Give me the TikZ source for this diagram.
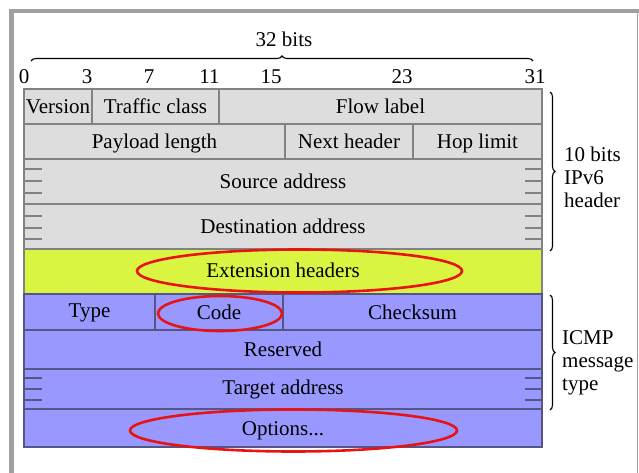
\documentclass[tikz,border=0pt]{standalone}
\usepackage{fontspec}
\setmainfont{Liberation Serif}
\usetikzlibrary{decorations.pathreplacing}
\definecolor{cellgray}{RGB}{221,221,221}
\definecolor{linegray}{RGB}{130,130,130}
\definecolor{extgreen}{RGB}{217,245,66}
\definecolor{icmpblue}{RGB}{152,152,255}
\definecolor{blueline}{RGB}{85,85,135}
\definecolor{framegray}{RGB}{160,160,160}
\definecolor{ovalred}{RGB}{232,20,20}
\begin{document}
\begin{tikzpicture}[x=1pt,y=-1pt,
  lbl/.style={font=\fontsize{21}{23}\selectfont, inner sep=0pt, text height=0.68em, text depth=0.22em, yshift=-4pt},
  graycell/.style={fill=cellgray, draw=linegray, line width=1.4pt},
  greencell/.style={fill=extgreen, draw=linegray, line width=1.4pt},
  bluecell/.style={fill=icmpblue, draw=blueline, line width=1.4pt},
  tick/.style={line width=1.3pt},
  oval/.style={draw=ovalred, line width=2.6pt},
  bracestyle/.style={decorate, line width=1.1pt, decoration={brace, amplitude=5pt}}]
\useasboundingbox (0,0) rectangle (639,473);
\fill[white] (0,0) rectangle (639,473);
% frame
\fill[framegray] (9,9) rectangle (14,473);
\fill[framegray] (9,9) rectangle (638.5,13);
\draw[framegray, line width=1.5pt] (637.5,9) -- (637.5,473);
% header rows
\draw[graycell] (24,89) rectangle (92,124);
\draw[graycell] (92,89) rectangle (219,124);
\draw[graycell] (219,89) rectangle (542,124);
\draw[graycell] (24,124) rectangle (285,159);
\draw[graycell] (285,124) rectangle (413,159);
\draw[graycell] (413,124) rectangle (542,159);
\draw[graycell] (24,159) rectangle (542,204);
\draw[graycell] (24,204) rectangle (542,249);
\draw[greencell] (24,249) rectangle (542,294);
% icmp rows
\draw[bluecell] (24,294) rectangle (155,330);
\draw[bluecell] (155,294) rectangle (283,330);
\draw[bluecell] (283,294) rectangle (542,330);
\draw[bluecell] (24,330) rectangle (542,369);
\draw[bluecell] (24,369) rectangle (542,409);
\draw[bluecell] (24,409) rectangle (542,447);
% ticks in address rows
\foreach \yy in {169,181,193,216,228,239} {
  \draw[tick, linegray] (25,\yy) -- (42,\yy);
  \draw[tick, linegray] (525,\yy) -- (541,\yy);
}
\foreach \yy in {378,389,400} {
  \draw[tick, blueline] (25,\yy) -- (42,\yy);
  \draw[tick, blueline] (525,\yy) -- (541,\yy);
}
% texts
\node[lbl] (ver) at (58,107.5) {Version};
\node[lbl] (tc) at (155.5,107.5) {Traffic class};
\node[lbl] (fl) at (380.5,107.5) {Flow label};
\node[lbl] (pl) at (154.5,142.5) {Payload length};
\node[lbl] (nh) at (349,142.5) {Next header};
\node[lbl] (hl) at (477.5,142.5) {Hop limit};
\node[lbl] (sa) at (283,182.5) {Source address};
\node[lbl] (da) at (283,227.5) {Destination address};
\node[lbl] (eh) at (283,271) {Extension headers};
\node[lbl] (ty) at (89.5,311) {Type};
\node[lbl] (co) at (219,313) {Code};
\node[lbl] (cs) at (412.5,313) {Checksum};
\node[lbl] (rs) at (283,350) {Reserved};
\node[lbl] (ta) at (283,388.5) {Target address};
\node[lbl] (op) at (283,429) {Options...};
% bit positions
\node[lbl] (b0) at (24,77) {0};
\node[lbl] (b3) at (87,77) {3};
\node[lbl] (b7) at (149,77) {7};
\node[lbl] (b11) at (209.5,77) {11};
\node[lbl] (b15) at (271,77) {15};
\node[lbl] (b23) at (402,77) {23};
\node[lbl] (b31) at (535,77) {31};
\node[lbl] (bits) at (284,40) {32 bits};
% braces
\coordinate (tbl) at (31,61);
\coordinate (tbr) at (533,61);
\draw[bracestyle] (tbl) -- (tbr);
\coordinate (r1t) at (550,92);
\coordinate (r1b) at (550,251);
\draw[bracestyle] (r1t) -- (r1b);
\coordinate (r2t) at (550,295);
\coordinate (r2b) at (550,410);
\draw[bracestyle] (r2t) -- (r2b);
\node[lbl, anchor=west] (t1) at (564,155) {10 bits};
\node[lbl, anchor=west] (t2) at (564,178) {IPv6};
\node[lbl, anchor=west] (t3) at (564,201) {header};
\node[lbl, anchor=west] (t4) at (562,338) {ICMP};
\node[lbl, anchor=west] (t5) at (562,361) {message};
\node[lbl, anchor=west] (t6) at (562,384) {type};
% red ovals
\draw[oval] (299.5,271) ellipse [x radius=162.5, y radius=21.5];
\draw[oval] (220,313.5) ellipse [x radius=62, y radius=17.5];
\draw[oval] (293.5,430.5) ellipse [x radius=163.5, y radius=21];
\end{tikzpicture}
\end{document}
